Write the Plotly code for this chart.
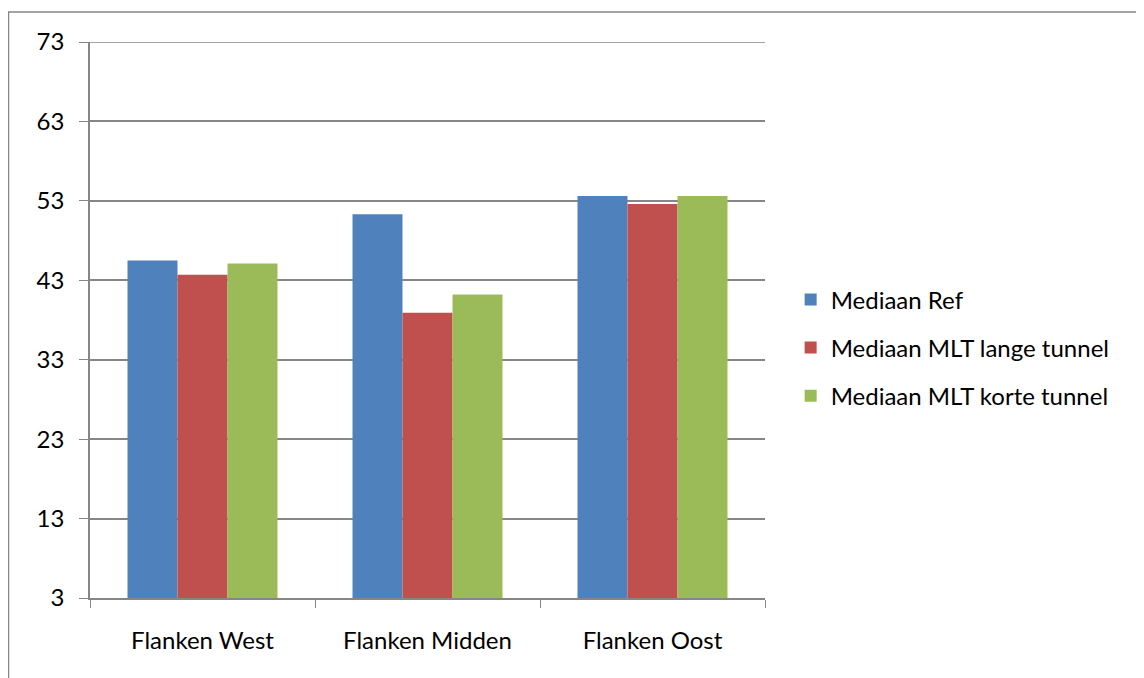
import plotly.graph_objects as go

categories = ["Flanken West", "Flanken Midden", "Flanken Oost"]
series_names = ["Mediaan Ref", "Mediaan MLT lange tunnel", "Mediaan MLT korte tunnel"]
ref_values = [45.5, 51.3, 53.6]
lange_values = [43.7, 38.9, 52.6]
korte_values = [45.1, 41.2, 53.6]
tick_values = [3, 13, 23, 33, 43, 53, 63, 73]
colors = ["#4F81BD", "#C0504D", "#9BBB59"]

FONT = "Lato, Carlito, Calibri, sans-serif"
GRID = "#868686"

# page body has an 8px margin; plot area on screen: x 90..765, y 42..598
L, T = 82, 34
PW, PH = 675, 556
W, H = 1144, 678

fig = go.Figure()
for i, (name, vals) in enumerate(zip(series_names, [ref_values, lange_values, korte_values])):
    fig.add_trace(go.Bar(
        x=categories, y=[v - 3 for v in vals], base=3, name=name,
        marker=dict(color=colors[i], line=dict(width=0)),
        legendgroup=f"g{i}",
    ))

fig.update_layout(
    width=W, height=H,
    margin=dict(l=L, r=W - L - PW, t=T, b=H - T - PH),
    paper_bgcolor="white", plot_bgcolor="white",
    barmode="group", bargap=1/3, bargroupgap=0,
    font=dict(family=FONT, size=24, color="#000000"),
    showlegend=True,
    legend=dict(x=1.038, y=0.45, xanchor="left", yanchor="middle",
                font=dict(family=FONT, size=24), traceorder="grouped",
                tracegroupgap=14, bgcolor="rgba(0,0,0,0)", itemwidth=30),
    xaxis=dict(type="category", showline=True, linecolor=GRID, linewidth=1.5,
               ticks="outside", tickson="boundaries", ticklen=8, tickcolor=GRID,
               showgrid=False, tickfont=dict(size=24), ticklabelstandoff=20),
    yaxis=dict(range=[3, 73], tickvals=tick_values, showline=True, linecolor=GRID,
               linewidth=1.5, ticks="outside", ticklen=9, tickcolor=GRID,
               showgrid=True, gridcolor=GRID, gridwidth=1.5, zeroline=False,
               tickfont=dict(size=24), ticklabelstandoff=10),
    shapes=[
        dict(type="rect", xref="paper", yref="paper",
             x0=(0.5 - L) / PW, x1=(1135 - L) / PW,
             y0=-0.3, y1=(T + PH - 4) / PH,
             line=dict(color=GRID, width=1.5), fillcolor="rgba(0,0,0,0)", layer="below"),
        dict(type="line", xref="paper", yref="y", x0=0, x1=1, y0=73, y1=73,
             line=dict(color=GRID, width=1.5), layer="below"),
    ],
)

fig.write_html("out.html")
